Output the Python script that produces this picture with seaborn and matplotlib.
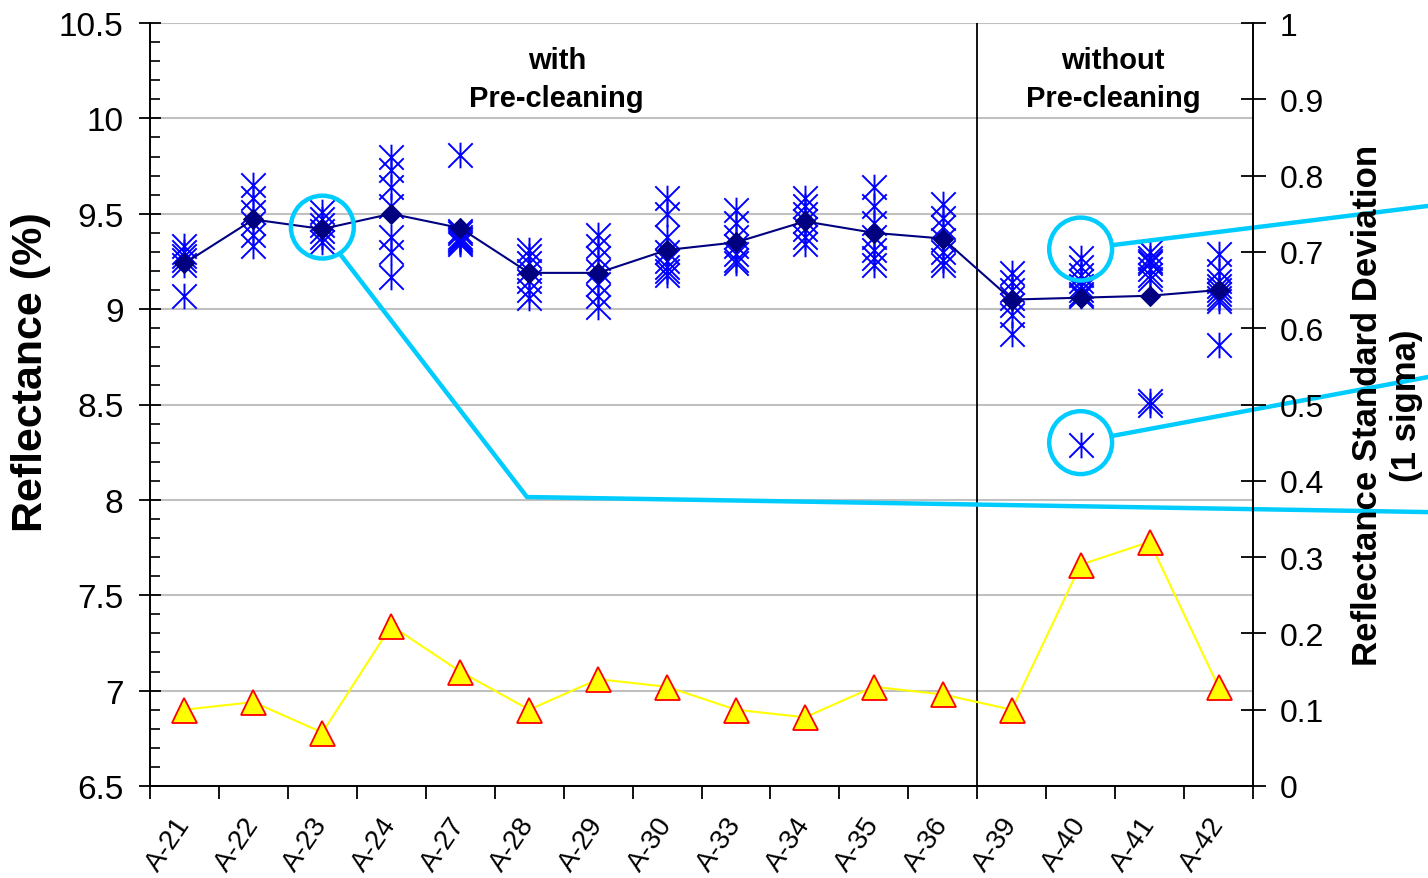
import numpy as np
import pandas as pd
import matplotlib
matplotlib.use("Agg")
import matplotlib.pyplot as plt
from matplotlib.path import Path
from matplotlib.ticker import MultipleLocator, FixedLocator
import seaborn as sns

# Sample identifiers
samples = ["A-21", "A-22", "A-23", "A-24", "A-27", "A-28", "A-29", "A-30",
           "A-33", "A-34", "A-35", "A-36", "A-39", "A-40", "A-41", "A-42"]

# Individual reflectance readings (%) per sample
r_a21 = [9.33, 9.30, 9.28, 9.26, 9.23, 9.07]
r_a22 = [9.65, 9.58, 9.51, 9.45, 9.39, 9.33]
r_a23 = [9.51, 9.47, 9.44, 9.41, 9.38, 9.35]
r_a24 = [9.80, 9.73, 9.64, 9.54, 9.38, 9.30, 9.17]
r_a27 = [9.81, 9.41, 9.40, 9.38, 9.37, 9.36, 9.35, 9.34]
r_a28 = [9.31, 9.28, 9.24, 9.20, 9.15, 9.10, 9.06]
r_a29 = [9.39, 9.33, 9.27, 9.20, 9.13, 9.07, 9.01]
r_a30 = [9.58, 9.50, 9.38, 9.30, 9.25, 9.22, 9.20, 9.18]
r_a33 = [9.52, 9.45, 9.38, 9.33, 9.29, 9.26, 9.24]
r_a34 = [9.58, 9.54, 9.50, 9.46, 9.42, 9.38, 9.34]
r_a35 = [9.64, 9.54, 9.45, 9.38, 9.31, 9.27, 9.23]
r_a36 = [9.55, 9.48, 9.43, 9.36, 9.30, 9.26, 9.23]
r_a39 = [9.19, 9.14, 9.10, 9.06, 9.02, 8.97, 8.87]
r_a40 = [9.27, 9.22, 9.18, 9.15, 9.12, 9.10, 9.08, 9.07, 8.29]
r_a41 = [9.30, 9.27, 9.25, 9.24, 9.21, 9.18, 9.16, 8.52, 8.50]
r_a42 = [9.29, 9.20, 9.15, 9.12, 9.10, 9.08, 9.06, 9.04, 8.81]

# Average reflectance (%) and its standard deviation (1 sigma)
mean_reflectance = [9.24, 9.47, 9.42, 9.50, 9.425, 9.19, 9.19, 9.31,
                    9.35, 9.46, 9.40, 9.37, 9.05, 9.06, 9.07, 9.10]
std_reflectance = [0.10, 0.11, 0.07, 0.21, 0.15, 0.10, 0.14, 0.13,
                   0.10, 0.09, 0.13, 0.12, 0.10, 0.29, 0.32, 0.13]

readings = [r_a21, r_a22, r_a23, r_a24, r_a27, r_a28, r_a29, r_a30,
            r_a33, r_a34, r_a35, r_a36, r_a39, r_a40, r_a41, r_a42]
positions = np.arange(len(samples))

points = pd.DataFrame({
    "pos": np.concatenate([[p] * len(r) for p, r in zip(positions, readings)]),
    "reflectance": np.concatenate(readings),
})
summary = pd.DataFrame({"pos": positions, "mean": mean_reflectance,
                        "std": std_reflectance})

sns.set_theme(style="white")
plt.rcParams["font.family"] = ["Liberation Sans", "DejaVu Sans"]
plt.rcParams["text.color"] = "black"
plt.rcParams["axes.labelcolor"] = "black"
plt.rcParams["xtick.color"] = "black"
plt.rcParams["ytick.color"] = "black"

W, H = 1428, 879
fig = plt.figure(figsize=(W / 100, H / 100), dpi=100)
ax = fig.add_axes([150 / W, 1 - 787 / H, (1253 - 150) / W, (787 - 24) / H])
ax2 = ax.twinx()

# Asterisk marker: an X with a vertical stroke
star = Path([(-1, -1), (1, 1), (-1, 1), (1, -1), (0, -1.05), (0, 1.05)],
            [Path.MOVETO, Path.LINETO, Path.MOVETO, Path.LINETO,
             Path.MOVETO, Path.LINETO])

sns.scatterplot(data=points, x="pos", y="reflectance", ax=ax, marker=star,
                s=340, color="#0000FF", edgecolor="#0000FF", linewidth=1.4,
                legend=False, zorder=3)
sns.lineplot(data=summary, x="pos", y="mean", ax=ax, color="#000080",
             marker="D", markersize=10, markeredgecolor="#000080",
             linewidth=1.5, zorder=4)
sns.lineplot(data=summary, x="pos", y="std", ax=ax2, color="#FFFF00",
             marker="^", markersize=18, markerfacecolor="#FFFF00",
             markeredgecolor="#FF0000", markeredgewidth=1.3, linewidth=1.5,
             zorder=3)

# Left axis
ax.set_xlim(-0.5, len(samples) - 0.5)
ax.set_ylim(6.5, 10.5)
ax.set_yticks(np.arange(6.5, 10.51, 0.5))
ax.set_yticklabels([f"{v:g}" for v in np.arange(6.5, 10.51, 0.5)], fontsize=24)
ax.yaxis.set_minor_locator(MultipleLocator(0.1))
ax.tick_params(axis="y", which="major", direction="inout", length=16,
               width=1.3, left=True, pad=11)
ax.tick_params(axis="y", which="minor", direction="in", length=7,
               width=1.2, left=True)
ax.grid(axis="y", which="major", color="#c0c0c0", linewidth=1.5)
ax.set_axisbelow(True)

ax.set_xticks(positions)
ax.set_xticklabels(samples, rotation=56, ha="right", va="center",
                   rotation_mode="anchor", fontsize=20)
ax.xaxis.set_minor_locator(FixedLocator(np.arange(-0.5, len(samples), 1)))
ax.tick_params(axis="x", which="major", length=0, pad=24)
ax.tick_params(axis="x", which="minor", direction="out", length=9,
               width=1.3, bottom=True)

ax.set_xlabel("")
ax.set_ylabel("Reflectance (%)", fontsize=31, fontweight="bold")
ax.yaxis.set_label_coords(-0.09, 0.544)

# Right axis
ax2.set_ylim(0, 1)
ax2.set_yticks(np.arange(0, 1.01, 0.1))
ax2.set_yticklabels([f"{v:g}" for v in np.round(np.arange(0, 1.01, 0.1), 1)],
                    fontsize=23)
ax2.tick_params(axis="y", which="major", direction="inout", length=18,
                width=1.3, right=True, pad=10)
ax2.set_ylabel("Reflectance Standard Deviation\n(1 sigma)", fontsize=25,
               fontweight="bold", linespacing=1.22)
ax2.yaxis.set_label_coords(1.089, 0.5)
ax2.grid(False)

for a in (ax, ax2):
    for side, sp in a.spines.items():
        sp.set_color("black")
        sp.set_linewidth(1.4)
    a.spines["top"].set_visible(False)
for side in ("left", "bottom"):
    ax2.spines[side].set_visible(False)
ax.spines["right"].set_visible(False)

# Split between cleaned and uncleaned samples
ax.axvline(11.5, color="black", linewidth=1.3, zorder=2)
ax.text(5.4, 10.205, "with\nPre-cleaning", ha="center", va="center",
        fontsize=21, fontweight="bold", linespacing=1.45)
ax.text(13.47, 10.205, "without\nPre-cleaning", ha="center", va="center",
        fontsize=21, fontweight="bold", linespacing=1.45)

# Callouts
cyan = "#00CCFF"
ax.scatter([2, 13, 13], [9.43, 9.315, 8.30], s=2050, facecolors="none",
           edgecolors=cyan, linewidths=3.2, zorder=6, clip_on=False)
ax.plot([2.256, 4.968, 18.04], [9.289, 8.015, 7.936], color=cyan,
        linewidth=3.2, zorder=6, clip_on=False, solid_capstyle="butt")
ax.plot([13.469, 18.04], [9.336, 9.541], color=cyan, linewidth=3.2,
        zorder=6, clip_on=False)
ax.plot([13.454, 18.04], [8.335, 8.644], color=cyan, linewidth=3.2,
        zorder=6, clip_on=False)

fig.savefig("out.png", dpi=100)
